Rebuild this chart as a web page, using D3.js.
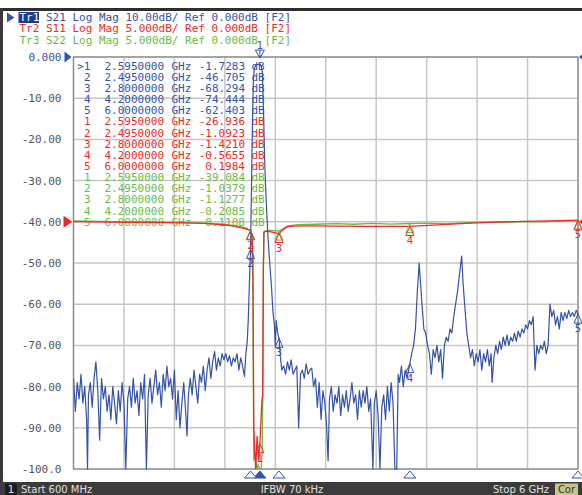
<!DOCTYPE html>
<html><head><meta charset="utf-8">
<script src="https://cdn.jsdelivr.net/npm/d3@7"></script>
<style>body{margin:0;background:#fff;}svg{display:block;}</style>
</head><body><svg id="c" width="582" height="495"></svg>
<script>
// ---------------- data ----------------
const freqStart = 0.6, freqStop = 6.0;           // GHz
const yTickValues = [0,-10,-20,-30,-40,-50,-60,-70,-80,-90,-100];
const yTickLabels = ["0.000","-10.00","-20.00","-30.00","-40.00","-50.00","-60.00","-70.00","-80.00","-90.00","-100.0"];
const traceNames = ["Tr1","Tr2","Tr3"];
const headerLines = [
  "S21 Log Mag 10.00dB/ Ref 0.000dB [F2]",
  "S11 Log Mag 5.000dB/ Ref 0.000dB [F2]",
  "S22 Log Mag 5.000dB/ Ref 0.000dB [F2]"
];
const statusTexts = ["Start 600 MHz","IFBW 70 kHz","Stop 6 GHz"];
const markerFreqs = [2.595, 2.495, 2.8, 4.2, 6.0];
const s21Markers = [-1.7283, -46.705, -68.294, -74.444, -62.403];
const s11Markers = [-26.936, -1.0923, -1.4210, -0.5655, 0.1984];
const s22Markers = [-39.084, -1.0379, -1.1277, -0.2085, 0.1108];

// S21 (dB) — Tr1, 10 dB/div
const s21 = [
[0.60,-78],[0.62,-86],[0.64,-79],[0.66,-83],[0.68,-77],[0.70,-84],[0.72,-80],[0.74,-88],[0.75,-100],[0.76,-82],
[0.78,-79],[0.80,-85],[0.82,-78],[0.84,-74],[0.86,-81],[0.88,-93],[0.90,-78],[0.92,-83],[0.94,-80],[0.96,-86],
[0.98,-82],[1.00,-88],[1.02,-80],[1.04,-84],[1.06,-89],[1.08,-81],[1.10,-86],[1.12,-79],[1.14,-84],[1.16,-100],
[1.18,-83],[1.20,-80],[1.22,-85],[1.24,-78],[1.26,-84],[1.28,-81],[1.30,-87],[1.32,-79],[1.34,-83],[1.36,-77],
[1.38,-100],[1.40,-82],[1.42,-78],[1.44,-84],[1.46,-80],[1.48,-76],[1.50,-82],[1.52,-79],[1.54,-85],[1.56,-77],
[1.58,-81],[1.60,-75],[1.62,-80],[1.64,-78],[1.66,-83],[1.68,-76],[1.70,-88],[1.72,-81],[1.74,-90],[1.76,-84],
[1.78,-79],[1.80,-86],[1.815,-92],[1.83,-82],[1.85,-78],[1.87,-82],[1.89,-76],[1.91,-80],[1.93,-84],[1.95,-77],
[1.97,-79],[1.99,-75],[2.01,-81],[2.03,-76],[2.05,-73],[2.07,-78],[2.09,-74],[2.11,-71.5],[2.13,-76],[2.15,-73],
[2.17,-75],[2.19,-72],[2.21,-73.5],[2.23,-72],[2.25,-74],[2.27,-72.5],[2.29,-75],[2.31,-73],[2.33,-74],[2.35,-72],
[2.37,-76],[2.39,-73],[2.41,-75],[2.43,-77.5],[2.445,-72],[2.46,-69],
[2.47,-64],[2.48,-57],[2.487,-52],[2.495,-46.7],[2.505,-32],[2.515,-16],[2.525,-6],[2.535,-2.8],[2.55,-2.0],
[2.57,-1.8],[2.595,-1.73],[2.61,-2.1],[2.62,-3.5],[2.628,-8],[2.636,-15],[2.645,-24],[2.655,-31],[2.665,-36],
[2.68,-43],[2.70,-50],[2.72,-56],[2.735,-62],[2.75,-65],
[2.76,-70],[2.77,-64],[2.785,-67],[2.80,-68.3],[2.815,-73],[2.83,-76],[2.85,-75],[2.87,-77],[2.89,-74],[2.91,-76],
[2.93,-73.5],[2.95,-77],[2.97,-76],[2.99,-75],[3.01,-90],[3.03,-77],[3.05,-76],[3.07,-78],[3.09,-74.5],[3.11,-77],
[3.13,-76],[3.15,-75.5],[3.17,-80],[3.19,-78],[3.21,-85],[3.23,-79],[3.25,-88],[3.27,-81],[3.29,-84],[3.31,-90],
[3.325,-98],[3.34,-83],[3.36,-80],[3.38,-86],[3.40,-82],[3.42,-84],[3.44,-80],[3.46,-87],[3.48,-82],[3.50,-85],
[3.52,-81],[3.54,-86],[3.56,-83],[3.58,-79],[3.60,-84],[3.62,-82],[3.64,-88],[3.66,-81],[3.68,-85],[3.70,-81],
[3.72,-84],[3.74,-80],[3.76,-86],[3.78,-83],[3.805,-100],[3.82,-84],[3.84,-81],[3.86,-87],[3.88,-100],[3.90,-85],
[3.92,-82],[3.94,-88],[3.96,-80],[3.98,-86],[4.00,-79],[4.02,-84],[4.04,-100],[4.06,-100],[4.075,-77],[4.09,-79],
[4.11,-75],[4.13,-80],[4.15,-76],[4.17,-78],[4.20,-74.4],[4.22,-72],[4.24,-70],[4.26,-66],[4.28,-57],[4.30,-50],
[4.315,-55],[4.33,-60],[4.35,-66],[4.37,-67],[4.39,-70],[4.41,-72],[4.43,-77],[4.45,-71],[4.47,-73],[4.49,-70],
[4.51,-74],[4.53,-71],[4.55,-78],[4.57,-70],[4.59,-68],[4.61,-69],[4.63,-66],[4.65,-67],[4.67,-63],[4.69,-60],
[4.71,-57],[4.73,-53],[4.755,-48.3],[4.77,-55],[4.79,-61],[4.81,-67],[4.83,-70],[4.85,-73],[4.87,-71],[4.89,-75],
[4.91,-72],[4.93,-74],[4.95,-71],[4.97,-76],[4.99,-72],[5.01,-74],[5.03,-71],[5.05,-75],[5.07,-72],[5.08,-79],
[5.10,-73],[5.12,-70],[5.14,-72],[5.16,-69],[5.18,-71],[5.20,-68],[5.22,-70],[5.24,-67.5],[5.26,-70],[5.28,-68],
[5.30,-69],[5.32,-67],[5.34,-69],[5.36,-66.5],[5.38,-68],[5.40,-66],[5.42,-67],[5.44,-65],[5.46,-66],[5.48,-64],
[5.50,-65],[5.52,-63],[5.54,-76],[5.56,-70],[5.58,-72],[5.60,-70],[5.62,-71],[5.64,-69],[5.66,-72],[5.68,-70],
[5.70,-60],[5.72,-63],[5.74,-61.5],[5.76,-65],[5.78,-63],[5.80,-66],[5.82,-62],[5.84,-64],[5.86,-62],[5.88,-63.5],
[5.90,-61.5],[5.92,-63],[5.94,-62],[5.96,-63],[5.98,-61.5],[6.00,-62.4]
];
// S11 (dB) — Tr2, 5 dB/div
const s11 = [
[0.6,0.02],[0.8,-0.02],[1.0,-0.04],[1.2,-0.06],[1.4,-0.08],[1.6,-0.1],[1.8,-0.14],[1.9,-0.17],[2.0,-0.2],
[2.1,-0.27],[2.2,-0.36],[2.3,-0.5],[2.38,-0.68],[2.44,-0.85],[2.47,-0.95],[2.495,-1.09],[2.51,-1.5],[2.52,-4],
[2.525,-15],[2.53,-25],[2.54,-28],[2.55,-31],[2.565,-26],[2.58,-29],[2.595,-26.9],[2.605,-24.5],[2.615,-22],
[2.625,-21],[2.632,-6],[2.638,-1.3],[2.66,-1.15],[2.70,-1.2],[2.75,-1.3],[2.78,-1.4],[2.80,-1.42],[2.84,-1.0],
[2.885,-0.6],[2.95,-0.52],[3.1,-0.5],[3.4,-0.52],[3.7,-0.55],[3.9,-0.56],[4.2,-0.5655],[4.5,-0.38],[4.8,-0.2],
[5.1,-0.05],[5.4,0.05],[5.7,0.12],[6.0,0.1984]
];
// S22 (dB) — Tr3, 5 dB/div
const s22 = [
[0.6,0.1],[0.9,0.05],[1.2,0.0],[1.5,-0.05],[1.8,-0.1],[2.0,-0.15],[2.2,-0.28],[2.35,-0.5],[2.44,-0.75],
[2.495,-1.04],[2.51,-1.8],[2.52,-8],[2.525,-20],[2.53,-29],[2.545,-28],[2.56,-31],[2.575,-29.5],[2.595,-39.08],
[2.61,-30],[2.62,-27.5],[2.627,-19.6],[2.633,-5],[2.64,-1.15],[2.7,-1.05],[2.8,-1.13],[2.85,-0.8],[2.9,-0.5],
[3.0,-0.35],[3.2,-0.3],[3.4,-0.22],[3.6,-0.3],[3.8,-0.2],[4.0,-0.28],[4.2,-0.2085],[4.4,-0.15],[4.6,-0.22],
[4.8,-0.1],[5.0,-0.05],[5.2,-0.08],[5.4,0.03],[5.6,0.0],[5.8,0.08],[6.0,0.1108]
];

// ---------------- drawing ----------------
const BLUE="#3553a6", RED="#ec2b25", GREEN="#69bb45", MONO="'DejaVu Sans Mono', monospace";
const svg = d3.select("#c");
const X0=73.5, X1=578, Y0=57, Y1=469;
const x = d3.scaleLinear().domain([freqStart,freqStop]).range([X0,X1]);
const yS21 = d3.scaleLinear().domain([-100,0]).range([Y1,Y0]);
const yRef = d3.scaleLinear().domain([-30,20]).range([Y1,Y0]).clamp(true);
const colors=[BLUE,RED,GREEN];

// outer frame
svg.append("rect").attr("x",0).attr("y",8).attr("width",582).attr("height",3).attr("fill","#2e2e2e");
svg.append("rect").attr("x",0).attr("y",8).attr("width",3).attr("height",487).attr("fill","#3a3a3a");

// header
headerLines.forEach((t,i)=>{
  const yy = 21+i*11.3;
  if (i===0) svg.append("rect").attr("x",18.5).attr("y",12).attr("width",20.5).attr("height",11).attr("fill","#1f3b8c");
  svg.append("text").attr("x",19.5).attr("y",yy).attr("font-family",MONO).attr("font-size",11)
    .attr("fill",i===0?"#fff":colors[i]).text(traceNames[i]);
  svg.append("text").attr("x",46).attr("y",yy).attr("font-family",MONO).attr("font-size",11)
    .attr("fill",colors[i]).style("white-space","pre").text(t);
});
svg.append("path").attr("d","M7,12.5L14.5,17.5L7,22.5Z").attr("fill",BLUE);

// grid
const xGrid = d3.range(11).map(i=>freqStart+i*(freqStop-freqStart)/10);
const g = svg.append("g");
g.selectAll(".vg").data(xGrid).enter().append("line")
  .attr("x1",d=>x(d)).attr("x2",d=>x(d)).attr("y1",Y0).attr("y2",Y1)
  .attr("stroke","#c6c6c6").attr("stroke-width",1.5);
g.selectAll(".hg").data(yTickValues).enter().append("line")
  .attr("x1",X0).attr("x2",X1).attr("y1",d=>yS21(d)).attr("y2",d=>yS21(d))
  .attr("stroke","#c6c6c6").attr("stroke-width",1.5);
svg.append("rect").attr("x",X0).attr("y",Y0).attr("width",X1-X0).attr("height",Y1-Y0)
  .attr("fill","none").attr("stroke","#8c8c8c").attr("stroke-width",1.3);

// y axis labels
const ax = svg.append("g").attr("transform",`translate(${X0},0)`)
  .call(d3.axisLeft(yS21).tickValues(yTickValues).tickFormat((d,i)=>yTickLabels[i]).tickSize(0).tickPadding(12));
ax.select(".domain").remove();
ax.selectAll("text").attr("font-family",MONO).attr("font-size",11).attr("fill",(d,i)=>i===0?BLUE:"#555");

// reference triangles
svg.append("path").attr("d",`M64.5,${Y0-5.5}L71.5,${Y0}L64.5,${Y0+5.5}Z`).attr("fill",BLUE);
svg.append("path").attr("d",`M63.5,${yRef(0)-6}L72.5,${yRef(0)}L63.5,${yRef(0)+6}Z`).attr("fill",RED);
svg.append("path").attr("d",`M579,${Y0}L585,${Y0-5}L585,${Y0+5}Z`).attr("fill",BLUE);
svg.append("path").attr("d",`M579,${yRef(0)}L585,${yRef(0)-5}L585,${yRef(0)+5}Z`).attr("fill",RED);

// marker table
const fmtV = v => { const a=Math.abs(v); return (v<0?"-":"")+(a>=10?a.toFixed(3):a.toFixed(4)); };
const traces = [[s21Markers,BLUE],[s11Markers,RED],[s22Markers,GREEN]];
let row=0;
traces.forEach(([vals,col],ti)=>{
  vals.forEach((v,i)=>{
    const yy = 69.7 + row*11.14;
    const tt = (s)=>svg.append("text").attr("y",yy).attr("font-family",MONO).attr("font-size",11).attr("fill",col).style("white-space","pre").text(s);
    tt(ti===0&&i===0?">1":String(i+1)).attr("x",90.5).attr("text-anchor","end");
    tt(markerFreqs[i].toFixed(7)).attr("x",104.5);
    tt("GHz").attr("x",171.5);
    tt(fmtV(v)).attr("x",245).attr("text-anchor","end");
    tt("dB").attr("x",251.5);
    row++;
  });
});

// traces
svg.append("clipPath").attr("id","pc").append("rect").attr("x",X0).attr("y",Y0-1).attr("width",X1-X0+1).attr("height",Y1-Y0+2);
const lineS21 = d3.line().x(d=>x(d[0])).y(d=>yS21(d[1]));
const lineRef = d3.line().x(d=>x(d[0])).y(d=>yRef(d[1]));
const tg = svg.append("g").attr("clip-path","url(#pc)");
tg.append("path").datum(s22).attr("d",lineRef).attr("fill","none").attr("stroke",GREEN).attr("stroke-width",1.3);
tg.append("path").datum(s11).attr("d",lineRef).attr("fill","none").attr("stroke",RED).attr("stroke-width",1.3);
tg.append("path").datum(s21).attr("d",lineS21).attr("fill","none").attr("stroke",BLUE).attr("stroke-width",1.2).attr("stroke-linejoin","round");

// trace markers (green numbers sit hidden under the red ones, so only triangles are drawn for Tr3)
function drawMarkers(vals, yScale, col, activeFirst, withLabels){
  vals.forEach((v,i)=>{
    const mx = x(markerFreqs[i]), my = yScale(v);
    if (activeFirst && i===0){
      svg.append("path").attr("d",`M${mx},${my-6}L${mx-4.5},${my-14}L${mx+4.5},${my-14}Z`).attr("fill","none").attr("stroke",col).attr("stroke-width",1);
      svg.append("line").attr("x1",mx).attr("x2",mx).attr("y1",my-14).attr("y2",my-6).attr("stroke",col);
      svg.append("text").attr("x",mx).attr("y",my-15.5).attr("text-anchor","middle").attr("font-family","'DejaVu Sans',sans-serif").attr("font-size",10).attr("fill",col).text(String(i+1));
    } else {
      if (my >= Y1-1) return;
      svg.append("path").attr("d",`M${mx},${my}L${mx-4},${my+9}L${mx+4},${my+9}Z`).attr("fill","none").attr("stroke",col).attr("stroke-width",1);
      if (withLabels) svg.append("text").attr("x",mx).attr("y",my+18).attr("text-anchor","middle").attr("font-family","'DejaVu Sans',sans-serif").attr("font-size",10).attr("fill",col).text(String(i+1));
    }
  });
}
drawMarkers(s22Markers, yRef, GREEN, false, false);
drawMarkers(s11Markers, yRef, RED, false, true);
drawMarkers(s21Markers, yS21, BLUE, true, true);

// stimulus marker triangles below axis
markerFreqs.forEach((f,i)=>{
  const mx=x(f);
  svg.append("path").attr("d",`M${mx},${Y1+2}L${mx-6},${Y1+9}L${mx+6},${Y1+9}Z`)
    .attr("fill",i===0?BLUE:"#fff").attr("stroke",BLUE).attr("stroke-width",1);
});

// status bar
svg.append("rect").attr("x",0).attr("y",482).attr("width",582).attr("height",13).attr("fill","#3b3b3b");
svg.append("rect").attr("x",5).attr("y",483.5).attr("width",12).attr("height",11.5).attr("fill","#1c1c1c");
svg.append("text").attr("x",11).attr("y",493).attr("text-anchor","middle").attr("font-family","'DejaVu Sans',sans-serif").attr("font-size",10).attr("fill","#e6e6e6").text("1");
[[21,"start"],[292,"middle"],[521,"middle"]].forEach(([px,anc],i)=>{
  svg.append("text").attr("x",px).attr("y",492.5).attr("text-anchor",anc).attr("font-family","'DejaVu Sans',sans-serif").attr("font-size",10).attr("fill","#e0e0e0").text(statusTexts[i]);
});
svg.append("rect").attr("x",555).attr("y",483.5).attr("width",23).attr("height",11.5).attr("fill","#c9c38e");
svg.append("text").attr("x",566.5).attr("y",493).attr("text-anchor","middle").attr("font-family","'DejaVu Sans',sans-serif").attr("font-size",10).attr("fill","#333").text("Cor");
</script></body></html>
